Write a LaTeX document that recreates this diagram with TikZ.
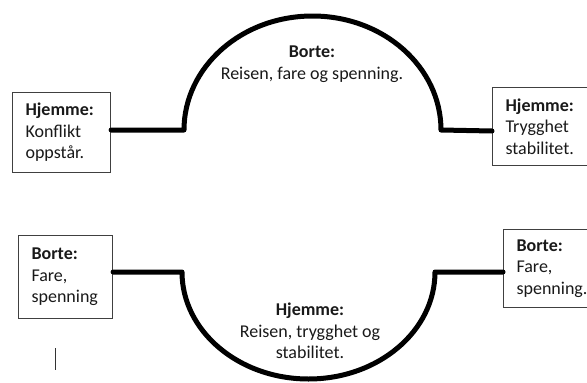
\documentclass[tikz,border=0pt]{standalone}
\usepackage{fontspec}
\setmainfont{Carlito}
\begin{document}
\begin{tikzpicture}[x=1pt,y=-1pt,
  txt/.style={font=\fontsize{18}{21.5}\selectfont, text=black!90},
  infobox/.style={txt, draw=black!75, line width=1.1pt, rectangle, align=left,
    anchor=north west, inner xsep=13, inner ysep=0, text width=#1},
  road/.style={line width=5pt, line join=round, line cap=round, black},
  label/.style={txt, align=center}]
\useasboundingbox (0,0) rectangle (587,383);

% boxes (the right-hand ones run off the page edge)
\node[infobox=72, minimum height=80] (hk) at (12,92)
  {\textbf{Hjemme:}\\Konflikt\\oppstår.};
\node[infobox=90, minimum height=78] (ht) at (492,87)
  {\textbf{Hjemme:}\\Trygghet\\stabilitet.};
\node[infobox=68, minimum height=83] (bl) at (18,235)
  {\textbf{Borte:}\\Fare,\\spenning};
\node[infobox=80, minimum height=78] (br) at (503,229)
  {\textbf{Borte:}\\Fare,\\spenning.};

% arc end points
\coordinate (ta) at (184,130);
\coordinate (tb) at (441,131);
\coordinate (ba) at (182,272);
\coordinate (bb) at (435,272);

% upper journey (arches upwards)
\draw[road] (hk.east |- ta) -- (ta)
  arc[start angle=180, end angle=360, x radius=128.5, y radius=114] -- (ht.west |- tb);
% lower journey (dips downwards)
\draw[road] (bl.east |- ba) -- (ba)
  arc[start angle=180, end angle=0, x radius=126.5, y radius=107] -- (br.west |- bb);

% centre labels
\node[label] (top) at (312,64) {\textbf{Borte:}\\Reisen, fare og spenning.};
\node[label] (bot) at (310,331) {\textbf{Hjemme:}\\Reisen, trygghet og\\stabilitet.};

% cursor mark
\coordinate (c1) at (55,348);
\coordinate (c2) at (55,370);
\draw[black!80, line width=1pt] (c1) -- (c2);
\end{tikzpicture}
\end{document}
